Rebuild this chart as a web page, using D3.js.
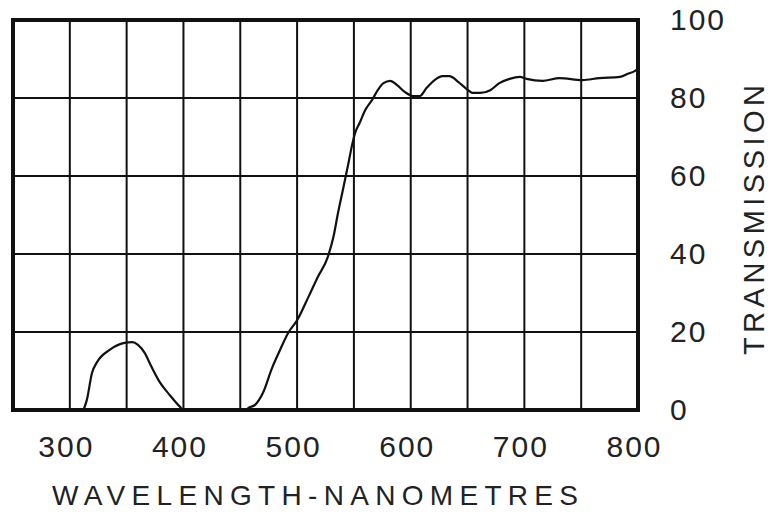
<!DOCTYPE html>
<html>
<head>
<meta charset="utf-8">
<script src="https://cdn.jsdelivr.net/npm/d3@7"></script>
<style>
  body { margin: 0; background: #fff; }
  text { font-family: "Liberation Sans", Arial, sans-serif; fill: #222; }
</style>
</head>
<body>
<div id="chart"></div>
<script>
// transmission curve
const wavelength = [312, 315, 319.5, 324, 335, 348, 355, 360, 366, 372, 379, 388, 397, 400,
  455, 457, 463, 470, 478, 485, 492, 500, 510, 518, 527, 532, 536, 540, 545, 548, 551, 555,
  560, 566, 571, 576, 582, 588, 595, 602, 608, 614, 621, 628, 634, 642, 648, 655, 661, 670,
  678, 687, 696, 702, 716, 731, 751, 766, 784, 791, 797, 800];
const transmission = [0, 2.6, 9.5, 12.3, 15.4, 17.2, 17.4, 16.7, 14.6, 11, 7.2, 3.8, 0.8, 0,
  0, 0.5, 1.3, 4.4, 10.8, 15.4, 19.7, 23, 29, 34, 39.2, 44.4, 50.5, 56, 63, 67.4, 71, 73.6,
  76.9, 79.5, 82, 83.8, 84.4, 83.3, 81.5, 80.5, 80.5, 82.6, 84.6, 85.6, 85.6, 84.1, 82.6, 81.3, 81.3, 82,
  83.8, 84.9, 85.4, 84.9, 84.4, 85.1, 84.6, 85.1, 85.4, 86.2, 86.9, 87.5];

const xTicks = [300, 400, 500, 600, 700, 800];
const yTicks = [0, 20, 40, 60, 80, 100];
const xTitle = 'WAVELENGTH-NANOMETRES';
const yTitle = 'TRANSMISSION';

const W = 771, H = 516;
const margin = {top: 20, right: 133, bottom: 106, left: 13};
const width = W - margin.left - margin.right;
const height = H - margin.top - margin.bottom;

const svg = d3.select('#chart').append('svg')
  .attr('width', W)
  .attr('height', H);

const g = svg.append('g')
  .attr('transform', 'translate(' + margin.left + ',' + margin.top + ')');

const x = d3.scaleLinear().domain([250, 800]).range([0, width]);
const y = d3.scaleLinear().domain([0, 100]).range([height, 0]);

// grid: every 50 nm, every 20 %
g.append('g')
  .selectAll('line')
  .data(d3.range(300, 800, 50))
  .enter().append('line')
  .attr('x1', d => x(d)).attr('x2', d => x(d))
  .attr('y1', 0).attr('y2', height)
  .attr('stroke', '#111')
  .attr('stroke-width', 2);

g.append('g')
  .selectAll('line')
  .data(yTicks.slice(1, -1))
  .enter().append('line')
  .attr('x1', 0).attr('x2', width)
  .attr('y1', d => y(d)).attr('y2', d => y(d))
  .attr('stroke', '#111')
  .attr('stroke-width', 2);

// curve
const points = wavelength.map((w, i) => [w, transmission[i]]);
g.append('path')
  .datum(points)
  .attr('fill', 'none')
  .attr('stroke', '#111')
  .attr('stroke-width', 2.2)
  .attr('d', d3.line().x(d => x(d[0])).y(d => y(d[1])).curve(d3.curveMonotoneX));

// frame
g.append('rect')
  .attr('x', 0).attr('y', 0)
  .attr('width', width).attr('height', height)
  .attr('fill', 'none')
  .attr('stroke', '#111')
  .attr('stroke-width', 4);

// x labels
const xAxis = d3.axisBottom(x).tickValues(xTicks).tickSize(0).tickPadding(26).tickFormat(d3.format('d'));
g.append('g')
  .attr('transform', 'translate(0,' + height + ')')
  .call(xAxis)
  .call(s => s.select('.domain').remove())
  .selectAll('text')
  .attr('dx', '-4')
  .style('font-size', '30px')
  .style('letter-spacing', '2px')
  .style('font-family', '"Liberation Sans", Arial, sans-serif')
  .attr('fill', '#222');

// y labels on the right
const yAxis = d3.axisRight(y).tickValues(yTicks).tickSize(0).tickPadding(32).tickFormat(d3.format('d'));
g.append('g')
  .attr('transform', 'translate(' + width + ',0)')
  .call(yAxis)
  .call(s => s.select('.domain').remove())
  .selectAll('text')
  .style('font-size', '30px')
  .style('letter-spacing', '2px')
  .style('font-family', '"Liberation Sans", Arial, sans-serif')
  .attr('fill', '#222');

// titles
svg.append('text')
  .attr('x', 52)
  .attr('y', 505)
  .attr('textLength', 526)
  .attr('lengthAdjust', 'spacing')
  .style('font-size', '28px')
  .text(xTitle);

svg.append('text')
  .attr('transform', 'translate(764,355) rotate(-90)')
  .attr('textLength', 270)
  .attr('lengthAdjust', 'spacing')
  .style('font-size', '29px')
  .text(yTitle);
</script>
</body>
</html>
